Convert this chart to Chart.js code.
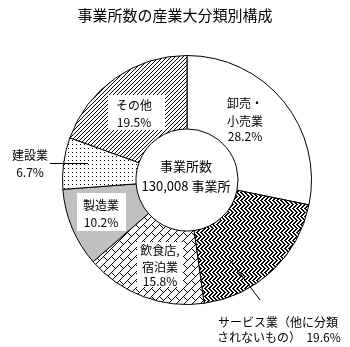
<!DOCTYPE html>
<html>
<head>
<meta charset="utf-8">
<script src="https://cdn.jsdelivr.net/npm/chart.js@4/dist/chart.umd.min.js"></script>
<style>
  body { margin: 0; background: #fff; }
  #wrap { width: 350px; height: 347px; }
</style>
</head>
<body>
<div id="wrap"><canvas id="pieChart" width="350" height="347"></canvas></div>
<script>
// data (clockwise from 12 o'clock)
const categories = ['卸売・小売業', 'サービス業（他に分類されないもの）', '飲食店，宿泊業', '製造業', '建設業', 'その他'];
const shares = [28.2, 19.6, 15.8, 10.2, 6.7, 19.5];
const totalCount = '130,008';

const FONT = '"Noto Sans CJK JP", "Noto Sans", sans-serif';

// 1-bit tile -> pattern
function makePattern(rows, bg) {
    const c = document.createElement('canvas');
    c.width = rows[0].length;
    c.height = rows.length;
    const g = c.getContext('2d');
    g.fillStyle = bg || '#fff';
    g.fillRect(0, 0, c.width, c.height);
    g.fillStyle = '#000';
    rows.forEach(function(r, y) {
        for (let x = 0; x < r.length; x++) {
            if (r[x] === 'X') g.fillRect(x, y, 1, 1);
        }
    });
    return g.createPattern(c, 'repeat');
}

// herringbone-ish weave
const weave = makePattern([
    'XX..XX..',
    '.XX..XX.',
    '..XX..XX',
    'X..XX..X',
    'XX..XX..',
    'X..XX..X',
    '..XX..XX',
    '.XX..XX.'
]);
const brick = makePattern([
    '.......X',
    'X.....X.',
    '.X...X..',
    '..X.X...',
    '...X....',
    '..X.....',
    '.X......',
    'X.......'
]);
const dots = makePattern([
    'X...',
    '....',
    '....',
    '....'
]);
const slash = makePattern([
    '...X',
    '..X.',
    '.X..',
    'X...'
]);

const fills = ['#ffffff', weave, brick, '#c0c0c0', dots, slash];

// label boxes and text inside / beside the ring
const labelBoxes = [
    { box: [108, 95, 57, 35], x: 134, lines: [['その他', 105], ['19.5%', 122]] },
    { box: null, x: 245, lines: [['卸売・', 103], ['小売業', 121], ['28.2%', 136]] },
    { box: [77, 193, 49, 38], x: 101, lines: [['製造業', 205], ['10.2%', 222]] },
    { box: [137, 242, 46, 45], x: 160, lines: [['飲食店,', 250], ['宿泊業', 267], ['15.8%', 281]] },
    { box: null, x: 30, lines: [['建設業', 155], ['6.7%', 172]] }
];

const overlay = {
    id: 'overlay',
    afterDraw(chart) {
        const ctx = chart.ctx;
        ctx.save();
        ctx.textBaseline = 'middle';
        ctx.textAlign = 'center';
        ctx.fillStyle = '#000';

        ctx.font = '15px ' + FONT;
        ctx.fillText('事業所数の産業大分類別構成', 175, 15);

        ctx.font = '12px ' + FONT;
        labelBoxes.forEach(function(l) {
            if (l.box) {
                ctx.fillStyle = '#fff';
                ctx.fillRect(l.box[0], l.box[1], l.box[2], l.box[3]);
            }
            ctx.fillStyle = '#000';
            l.lines.forEach(function(t) { ctx.fillText(t[0], l.x, t[1]); });
        });

        // centre
        ctx.font = '13px ' + FONT;
        ctx.fillText('事業所数', 186, 166);
        ctx.fillText(totalCount + ' 事業所', 186, 186);

        // service label below
        ctx.font = '12px ' + FONT;
        ctx.textAlign = 'left';
        ctx.fillText('サービス業（他に分類', 218, 322);
        ctx.fillText('されないもの）  19.6%', 217, 337);

        // leader lines
        ctx.strokeStyle = '#000';
        ctx.lineWidth = 1;
        ctx.beginPath();
        ctx.moveTo(50, 163.5); ctx.lineTo(88, 163.5);
        ctx.moveTo(230, 260); ctx.lineTo(260, 300);
        ctx.stroke();
        ctx.restore();
    }
};

new Chart(document.getElementById('pieChart'), {
    type: 'doughnut',
    data: {
        labels: categories,
        datasets: [{
            data: shares,
            backgroundColor: fills,
            borderColor: '#000',
            borderWidth: 1
        }]
    },
    options: {
        responsive: false,
        animation: false,
        cutout: '41%',
        layout: { padding: { left: 62, right: 38, top: 55, bottom: 42 } },
        plugins: {
            legend: { display: false },
            tooltip: { enabled: false }
        }
    },
    plugins: [overlay]
});
</script>
</body>
</html>
